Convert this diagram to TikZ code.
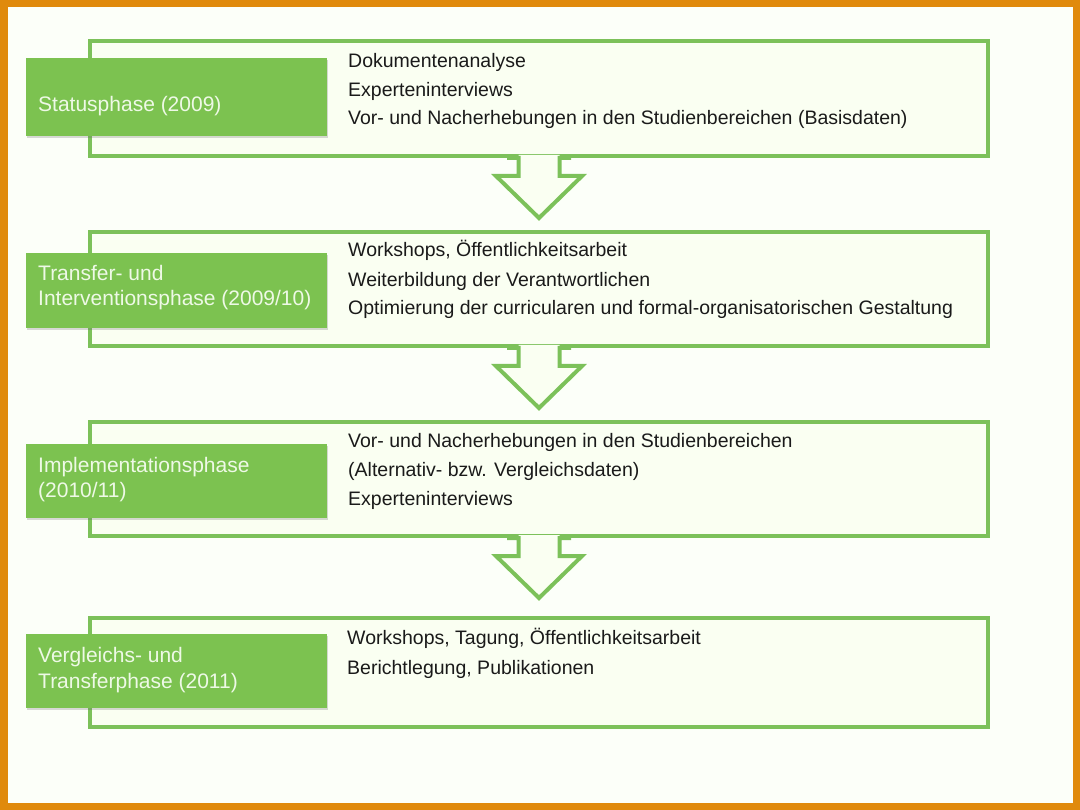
\documentclass[tikz,border=0pt]{standalone}
\usepackage{fontspec}
\setmainfont{Liberation Sans}
\usetikzlibrary{shadows}
\definecolor{frameorange}{HTML}{E08A0C}
\definecolor{pagebg}{HTML}{FCFFF9}
\definecolor{boxbg}{HTML}{FAFFF2}
\definecolor{framegreen}{HTML}{7CC15A}
\definecolor{labelgreen}{HTML}{7CC250}
\definecolor{labeltext}{HTML}{EEF9E6}
\definecolor{bodytext}{HTML}{1A1A1A}
\tikzset{
  phasebox/.style={draw=framegreen, line width=4pt, fill=boxbg, minimum width=898, inner sep=0pt},
  phaselabel/.style={fill=labelgreen, minimum width=301, inner sep=0pt,
     drop shadow={shadow xshift=1pt, shadow yshift=-2pt, opacity=0.25, fill=black!60}},
  labeltxt/.style={anchor=base west, inner sep=0pt, text=labeltext, font=\fontsize{21}{25.5}\selectfont},
  itemtxt/.style={anchor=base west, inner sep=0pt, text=bodytext, font=\fontsize{19.5}{29}\selectfont},
  arrowline/.style={draw=framegreen, line width=4pt, line join=miter},
}
\newcommand{\phasearrow}[1]{%
  \fill[boxbg] ([shift={(-20.5,-3)}]#1.south) -- ([shift={(-20.5,18)}]#1.south)
     -- ([shift={(-43,18)}]#1.south) -- ([shift={(0,60)}]#1.south)
     -- ([shift={(43,18)}]#1.south) -- ([shift={(20.5,18)}]#1.south)
     -- ([shift={(20.5,-3)}]#1.south) -- cycle;
  \draw[arrowline] ([shift={(-32,0)}]#1.south) -- ([shift={(-20.5,0)}]#1.south)
     -- ([shift={(-20.5,18)}]#1.south) -- ([shift={(-43,18)}]#1.south)
     -- ([shift={(0,60)}]#1.south) -- ([shift={(43,18)}]#1.south)
     -- ([shift={(20.5,18)}]#1.south) -- ([shift={(20.5,0)}]#1.south)
     -- ([shift={(32,0)}]#1.south);
}
\begin{document}
\begin{tikzpicture}[x=1pt,y=-1pt]
\useasboundingbox (0,0) rectangle (1080,810);
\fill[pagebg] (0,0) rectangle (1080,810);
\draw[frameorange, line width=7.5pt] (3.75,3.75) rectangle (1076.25,806.25);

% frames
\node[phasebox, minimum height=115] (b1) at (539,98.5) {};
\node[phasebox, minimum height=114] (b2) at (539,289) {};
\node[phasebox, minimum height=114] (b3) at (539,479) {};
\node[phasebox, minimum height=109] (b4) at (539,672.5) {};

% arrows
\phasearrow{b1}
\phasearrow{b2}
\phasearrow{b3}

% labels
\node[phaselabel, minimum height=78] (l1) at (176.5,97) {};
\node[phaselabel, minimum height=75] (l2) at (176.5,290.5) {};
\node[phaselabel, minimum height=74] (l3) at (176.5,481) {};
\node[phaselabel, minimum height=74] (l4) at (176.5,671) {};

\node[labeltxt] (t1) at (38,111.5) {Statusphase (2009)};
\node[labeltxt] (t2a) at (38,280.5) {Transfer- und};
\node[labeltxt] (t2b) at (38,305.5) {Interventionsphase (2009/10)};
\node[labeltxt] (t3a) at (38,472.5) {Implementationsphase};
\node[labeltxt] (t3b) at (38,497.5) {(2010/11)};
\node[labeltxt] (t4a) at (38,662.5) {Vergleichs- und};
\node[labeltxt] (t4b) at (38,688.5) {Transferphase (2011)};

% items
\node[itemtxt] (i11) at (348,68) {Dokumentenanalyse};
\node[itemtxt] (i12) at (348,97) {Experteninterviews};
\node[itemtxt] (i13) at (348,125) {Vor- und Nacherhebungen in den Studienbereichen (Basisdaten)};

\node[itemtxt] (i21) at (348,257) {Workshops, Öffentlichkeitsarbeit};
\node[itemtxt] (i22) at (348,287) {Weiterbildung der Verantwortlichen};
\node[itemtxt] (i23) at (348,315) {Optimierung der curricularen und formal-organisatorischen Gestaltung};

\node[itemtxt] (i31) at (348,448) {Vor- und Nacherhebungen in den Studienbereichen};
\node[itemtxt] (i32) at (348,477) {(Alternativ- bzw. Vergleichsdaten)};
\node[itemtxt] (i33) at (348,505) {Experteninterviews};

\node[itemtxt] (i41) at (347,644) {Workshops, Tagung, Öffentlichkeitsarbeit};
\node[itemtxt] (i42) at (347,674) {Berichtlegung, Publikationen};
\end{tikzpicture}
\end{document}
